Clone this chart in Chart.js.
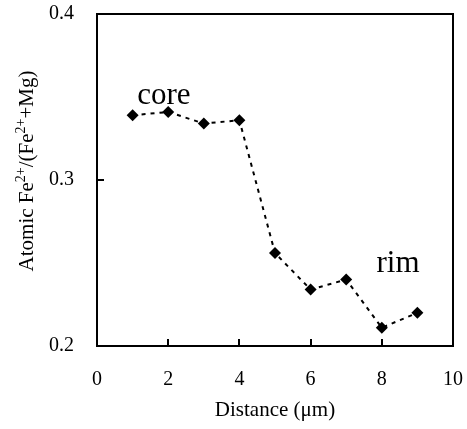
<!DOCTYPE html>
<html>
<head>
<meta charset="utf-8">
<script src="https://cdn.jsdelivr.net/npm/chart.js@4.4.0/dist/chart.umd.min.js"></script>
<style>
  html, body { margin: 0; padding: 0; background: #fff; }
</style>
</head>
<body>
<canvas id="chart" width="467" height="429"></canvas>
<script>
// data
const distance = [1, 2, 3, 4, 5, 6, 7, 8, 9];
const feRatio = [0.339, 0.341, 0.334, 0.336, 0.256, 0.234, 0.240, 0.211, 0.220];
const xTicks = [0, 2, 4, 6, 8, 10];
const yTicks = [0.2, 0.3, 0.4];
const noteText = ["core", "rim"];
const noteX = [1.13, 7.85];
const noteY = [0.346, 0.2445];

const serif = "'Times New Roman', 'Liberation Serif', serif";

// box frame, inward ticks, notes and the y title with superscripts
const decorPlugin = {
  id: "decor",
  beforeDatasetsDraw(chart) {
    const { ctx, chartArea: a, scales } = chart;
    ctx.save();
    ctx.strokeStyle = "#000";
    ctx.lineWidth = 2;
    ctx.strokeRect(a.left, a.top, a.right - a.left, a.bottom - a.top);
    ctx.beginPath();
    scales.x.ticks.forEach(t => {
      const px = Math.round(scales.x.getPixelForValue(t.value));
      ctx.moveTo(px, a.bottom);
      ctx.lineTo(px, a.bottom - 7);
    });
    scales.y.ticks.forEach(t => {
      const py = Math.round(scales.y.getPixelForValue(t.value));
      ctx.moveTo(a.left, py);
      ctx.lineTo(a.left + 7, py);
    });
    ctx.stroke();
    ctx.restore();
  },
  afterDraw(chart) {
    const { ctx, chartArea: a, scales } = chart;
    ctx.save();
    ctx.fillStyle = "#000";
    ctx.textBaseline = "alphabetic";
    ctx.textAlign = "left";
    ctx.font = "31px " + serif;
    noteText.forEach((s, i) => {
      ctx.fillText(s, scales.x.getPixelForValue(noteX[i]), scales.y.getPixelForValue(noteY[i]));
    });

    // rotated y title
    const size = 21, sup = 14;
    const parts = [
      ["Atomic Fe", false], ["2+", true], ["/(Fe", false], ["2+", true], ["+Mg)", false]
    ];
    let total = 0;
    parts.forEach(p => {
      ctx.font = (p[1] ? sup : size) + "px " + serif;
      total += ctx.measureText(p[0]).width;
    });
    ctx.translate(33, (a.top + a.bottom) / 2 - 9);
    ctx.rotate(-Math.PI / 2);
    let x = -total / 2;
    parts.forEach(p => {
      ctx.font = (p[1] ? sup : size) + "px " + serif;
      ctx.fillText(p[0], x, p[1] ? -8 : 0);
      x += ctx.measureText(p[0]).width;
    });
    ctx.restore();
  }
};

// keep tick padding from pushing the plot area inwards
function noSidePadding(s) {
  s.paddingTop = 0;
  s.paddingBottom = 0;
  s.paddingLeft = 0;
  s.paddingRight = 0;
}

new Chart(document.getElementById("chart"), {
  type: "scatter",
  data: {
    datasets: [{
      data: distance.map((d, i) => ({ x: d, y: feRatio[i] })),
      showLine: true,
      borderColor: "#000",
      borderWidth: 2,
      borderDash: [4, 5],
      pointStyle: "rectRot",
      pointRadius: 6,
      pointBackgroundColor: "#000",
      pointBorderWidth: 0,
      clip: false
    }]
  },
  options: {
    responsive: false,
    devicePixelRatio: 1,
    animation: false,
    layout: { padding: { top: 14, right: 14, left: 0, bottom: 0 } },
    plugins: { legend: { display: false }, tooltip: { enabled: false } },
    scales: {
      x: {
        type: "linear",
        min: 0,
        max: 10,
        afterBuildTicks: s => { s.ticks = xTicks.map(v => ({ value: v })); },
        afterFit: s => { s.height = 83; noSidePadding(s); },
        grid: { display: false },
        border: { display: false },
        ticks: { color: "#000", font: { family: serif, size: 20 }, padding: 14, maxRotation: 0 },
        title: {
          display: true,
          text: "Distance (μm)",
          color: "#000",
          font: { family: serif, size: 21 },
          padding: { top: 0, bottom: 6 }
        }
      },
      y: {
        type: "linear",
        min: 0.2,
        max: 0.4,
        afterBuildTicks: s => { s.ticks = yTicks.map(v => ({ value: v })); },
        afterFit: s => { s.width = 97; noSidePadding(s); },
        grid: { display: false },
        border: { display: false },
        ticks: {
          color: "#000",
          font: { family: serif, size: 20 },
          padding: 15,
          callback: v => v.toFixed(1)
        }
      }
    }
  },
  plugins: [decorPlugin]
});
</script>
</body>
</html>
